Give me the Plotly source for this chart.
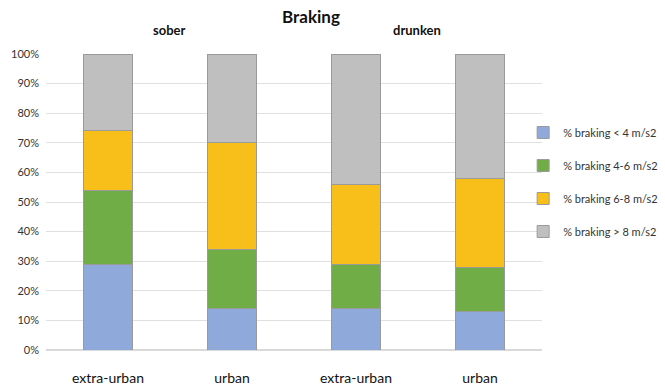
import plotly.graph_objects as go

categories = ["extra-urban", "urban", "extra-urban ", "urban "]
tick_text = ["extra-urban", "urban", "extra-urban", "urban"]
series_names = ["% braking < 4 m/s2", "% braking 4-6 m/s2", "% braking 6-8 m/s2", "% braking > 8 m/s2"]
lt4 = [29, 14, 14, 13]
b4_6 = [25, 20, 15, 15]
b6_8 = [20, 36, 27, 30]
gt8 = [26, 30, 44, 42]
colors = ["#8FA9DB", "#70AD47", "#F8BF1A", "#BFBFBF"]
y_ticks = [0, 0.1, 0.2, 0.3, 0.4, 0.5, 0.6, 0.7, 0.8, 0.9, 1.0]

FONT = "Lato, Calibri, Carlito, sans-serif"

fig = go.Figure()
for i, (name, vals) in enumerate(zip(series_names, [lt4, b4_6, b6_8, gt8])):
    fig.add_trace(go.Bar(
        x=categories, y=[v / 100 for v in vals], name=name,
        marker=dict(color=colors[i], line=dict(color="#9a9a9a", width=1)),
        legendgroup=f"g{i}",
    ))

fig.update_layout(
    width=665, height=387,
    barmode="stack", bargap=0.6,
    plot_bgcolor="white", paper_bgcolor="white",
    margin=dict(l=46, r=123, t=54, b=37, autoexpand=False),
    font=dict(family=FONT, size=12, color="#222"),
    title=dict(text="<b>Braking</b>", x=311 / 665, xanchor="center", y=1 - 17 / 387, yanchor="middle",
               font=dict(size=17, color="#111")),
    legend=dict(x=0.962, xanchor="left", y=0.5676, yanchor="middle", traceorder="grouped",
                tracegroupgap=14, itemwidth=30, bgcolor="rgba(0,0,0,0)",
                font=dict(size=11, color="#333")),
    xaxis=dict(tickmode="array", tickvals=categories, ticktext=tick_text, showgrid=False,
               showline=False, ticks="", ticklabelstandoff=18, tickfont=dict(size=14, color="#111")),
    yaxis=dict(range=[0, 1], tickvals=y_ticks, tickformat=".0%", showgrid=True, gridcolor="#e0e0e0",
               gridwidth=1, zeroline=True, zerolinecolor="#d9d9d9", ticks="", ticklabelstandoff=6,
               tickfont=dict(size=11, color="#333")),
    annotations=[
        dict(text="<b>sober</b>", x=0.248, y=1.081, xref="paper", yref="paper",
             xanchor="center", yanchor="middle", showarrow=False, font=dict(size=13, color="#111")),
        dict(text="<b>drunken</b>", x=0.748, y=1.081, xref="paper", yref="paper",
             xanchor="center", yanchor="middle", showarrow=False, font=dict(size=13, color="#111")),
    ],
)

fig.write_html("out.html")
